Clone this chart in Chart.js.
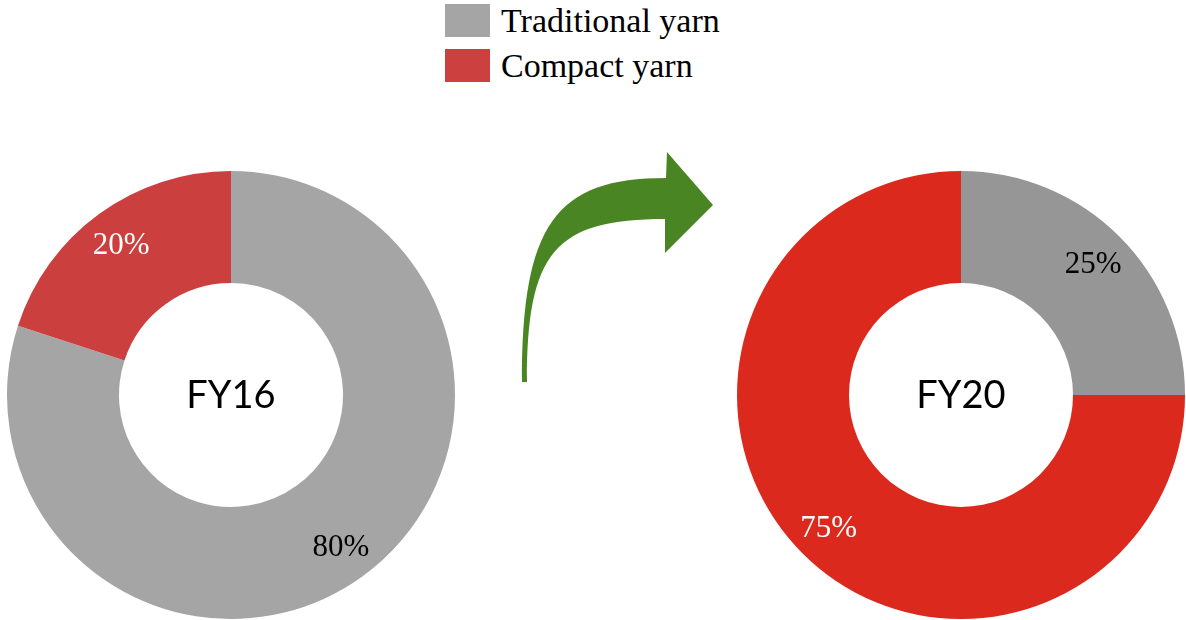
<!DOCTYPE html>
<html><head><meta charset="utf-8">
<script src="https://cdn.jsdelivr.net/npm/chart.js@4"></script>
<style>
html,body{margin:0;padding:0;background:#fff;width:1186px;height:620px;overflow:hidden;}
.wrap{position:absolute;}
#legend{position:absolute;left:445px;top:4px;font-family:"Liberation Serif",serif;font-size:34px;color:#000;}
.item{display:flex;align-items:center;height:33px;margin-bottom:12px;white-space:nowrap;}
.box{width:45px;height:33px;margin-right:11px;flex:none;}
</style></head>
<body>
<div id="legend"></div>
<div class="wrap" style="left:7px;top:171px;width:448px;height:448px;"><canvas id="c1"></canvas></div>
<div class="wrap" style="left:737px;top:171px;width:448px;height:448px;"><canvas id="c2"></canvas></div>
<canvas id="arrow" width="240" height="260" style="position:absolute;left:500px;top:140px;"></canvas>
<script>
const categories = ["Traditional yarn", "Compact yarn"];
const fy16Values = [80, 20];
const fy20Values = [25, 75];
const centerLabels = ["FY16", "FY20"];
const legendColors = ["#A5A5A5", "#CC4040"];
const fy16Colors = ["#A5A5A5", "#CC3F3F"];
const fy20Colors = ["#969696", "#DC291E"];
const labelColors = ["#000000", "#FFFFFF"];

// HTML legend
const lg = document.getElementById('legend');
categories.forEach((c, i) => {
  const it = document.createElement('div'); it.className = 'item';
  const b = document.createElement('div'); b.className = 'box'; b.style.background = legendColors[i];
  const t = document.createElement('span'); t.textContent = c;
  it.appendChild(b); it.appendChild(t); lg.appendChild(it);
});

const pctLabels = {
  id: 'pctLabels',
  afterDatasetsDraw(chart) {
    const ctx = chart.ctx;
    const meta = chart.getDatasetMeta(0);
    const vals = chart.data.datasets[0].data;
    ctx.save();
    ctx.font = '31px "Liberation Serif", serif';
    ctx.textAlign = 'center';
    ctx.textBaseline = 'middle';
    meta.data.forEach((arc, i) => {
      const p = arc.getProps(['x','y','startAngle','endAngle','innerRadius','outerRadius'], true);
      const a = (p.startAngle + p.endAngle) / 2;
      const r = p.innerRadius + 0.67 * (p.outerRadius - p.innerRadius);
      ctx.fillStyle = labelColors[i];
      ctx.fillText(vals[i] + '%', p.x + r * Math.cos(a), p.y + r * Math.sin(a) + 2);
    });
    // center text
    const a0 = meta.data[0];
    ctx.font = '38px Lato, sans-serif';
    ctx.fillStyle = '#000';
    ctx.fillText(chart.options.plugins.centerText, a0.x, a0.y + 1);
    ctx.restore();
  }
};

function make(id, values, colors, center) {
  return new Chart(document.getElementById(id), {
    type: 'doughnut',
    data: { labels: categories, datasets: [{ data: values, backgroundColor: colors, borderWidth: 0 }] },
    options: {
      responsive: true, maintainAspectRatio: false, animation: false,
      cutout: '50%',
      layout: { padding: 0 },
      plugins: { legend: { display: false }, tooltip: { enabled: false }, centerText: center }
    },
    plugins: [pctLabels]
  });
}
make('c1', fy16Values, fy16Colors, centerLabels[0]);
make('c2', fy20Values, fy20Colors, centerLabels[1]);

// decorative arrow
const ac = document.getElementById('arrow').getContext('2d');
ac.translate(-500, -140);
ac.fillStyle = '#4A8523';
ac.beginPath();
ac.moveTo(522, 382);
ac.bezierCurveTo(522, 225, 555, 178, 666, 178);
ac.lineTo(667, 152);
ac.lineTo(713, 205);
ac.lineTo(665, 253);
ac.lineTo(665, 219);
ac.bezierCurveTo(555, 219, 527, 252, 527, 382);
ac.closePath();
ac.fill();
</script>
</body></html>
